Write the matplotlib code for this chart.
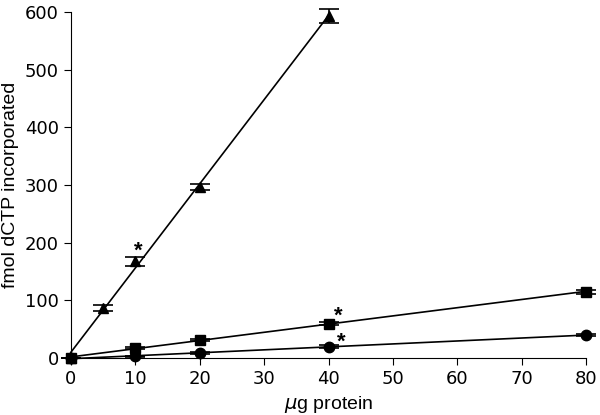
import numpy as np
import matplotlib.pyplot as plt

plt.rcParams['font.family'] = ['Liberation Sans', 'DejaVu Sans']

# data
x_tri = [0, 5, 10, 20, 40]
y_tri = [0, 87, 168, 297, 593]
e_tri = [0, 5, 8, 5, 12]

x_sq = [0, 10, 20, 40, 80]
y_sq = [0, 17, 32, 60, 115]
e_sq = [0, 2, 2, 3, 3]

x_ci = [0, 10, 20, 40, 80]
y_ci = [0, 3, 9, 20, 40]
e_ci = [0, 1, 1, 2, 2]

# asterisk positions (significance marks)
star_x = [10.4, 41.5, 42]
star_y = [185, 72, 27]

fig = plt.figure(figsize=(6, 4.15), dpi=100)
ax = fig.add_axes([0.118, 0.137, 0.859, 0.834])

for xs, ys, es, m, ms in [(x_tri, y_tri, e_tri, '^', 7.5),
                          (x_sq, y_sq, e_sq, 's', 7.5),
                          (x_ci, y_ci, e_ci, 'o', 7.5)]:
    xs = np.array(xs); ys = np.array(ys)
    k, b = np.polyfit(xs, ys, 1)
    xx = np.array([0, xs.max()])
    ax.plot(xx, k * xx + b, color='black', lw=1.2, clip_on=False)
    ax.errorbar(xs, ys, yerr=es, fmt=m, color='black', ms=ms, capsize=7,
                elinewidth=1.2, capthick=1.2, clip_on=False, zorder=3)

for sx, sy in zip(star_x, star_y):
    ax.text(sx, sy, '*', fontsize=16, ha='center', va='center', fontweight='bold')

ax.set_xlim(0, 80)
ax.set_ylim(0, 600)
ax.set_xticks(range(0, 81, 10))
ax.set_yticks(range(0, 601, 100))
ax.spines['top'].set_visible(False)
ax.spines['right'].set_visible(False)
ax.tick_params(direction='out', length=5, labelsize=13)
for lab in ax.get_xticklabels() + ax.get_yticklabels():
    lab.set_family('DejaVu Sans')
ax.set_xlabel(r'$\mu$g protein', fontsize=14)
ax.set_ylabel('fmol dCTP incorporated', fontsize=14)

fig.savefig('out.png', dpi=100)
